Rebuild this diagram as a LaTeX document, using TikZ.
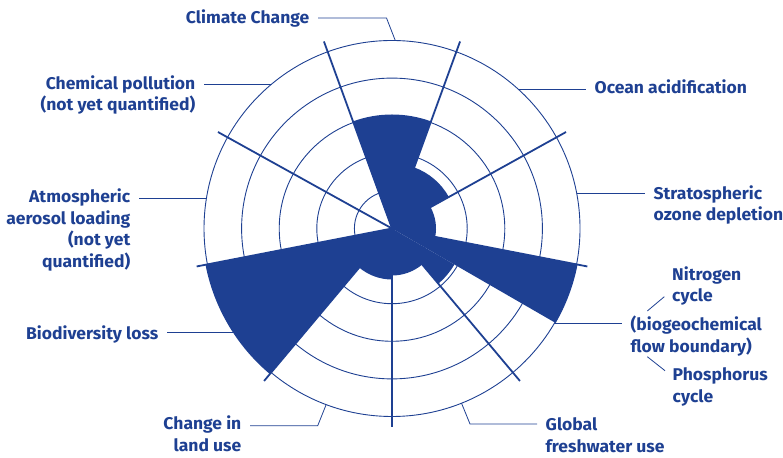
\documentclass[tikz,border=0pt]{standalone}
\usepackage{fontspec}
\setmainfont{Fira Sans}[FakeStretch=1.03]
\definecolor{pbblue}{RGB}{30,64,146}

\begin{document}
\begin{tikzpicture}[
    x=1pt, y=1pt,
    ring/.style={draw=pbblue, line width=0.9pt},
    spoke/.style={draw=pbblue, line width=1.8pt},
    wedge/.style={fill=pbblue},
    leader/.style={draw=pbblue, line width=0.8pt},
    lab/.style={font=\bfseries\fontsize{17}{21.7}\selectfont, text=pbblue, inner xsep=8.5pt, inner ysep=0pt},
    labl/.style={lab, align=left, anchor=base west},
    labr/.style={lab, align=right, anchor=base east}
]
\useasboundingbox (0,0) rectangle (783,457);
\coordinate (c) at (392,228.5);

% rings of the boundary chart
\foreach \rr in {37.6,75.2,112.8,150.4,188}
    \draw[ring] (c) circle[radius=\rr];

% boundaries that are quantified
\foreach \from/\to/\rr in {70/110/114, 29/70/65, -11/29/44, -30/-11/189,
                           -50/-30/72, -90/-50/47, -130/-90/51, -169/-130/190}
    \fill[wedge] (c) -- ([shift={(c)}]\from:\rr)
        arc[start angle=\from, end angle=\to, radius=\rr] -- cycle;

\foreach \a in {29,70,110,151,191,230,270,310,349}
    \draw[spoke] (c) -- ([shift={(c)}]\a:199);

% where the leaders meet the outer ring
\coordinate (climpt) at ([shift={(c)}]89:188);
\coordinate (chempt) at ([shift={(c)}]130:188);
\coordinate (oceanpt) at ([shift={(c)}]47.7:188);
\coordinate (ozonept) at ([shift={(c)}]10.7:188);
\coordinate (aeropt) at ([shift={(c)}]170.8:188);
\coordinate (biopt) at ([shift={(c)}]-146.4:188);
\coordinate (bgcpt) at ([shift={(c)}]-30.4:188);
\coordinate (landpt) at ([shift={(c)}]-110.5:188);
\coordinate (freshpt) at ([shift={(c)}]-68.3:188);
\coordinate (climbend) at (386.5,439);
\coordinate (landbend) at (317.7,31.3);
\coordinate (freshbend) at (470,33);

% labels (base = last line)
\node[labr] (clim) at (318,433.8) {Climate Change};
\node[labr] (chem) at (204,346.1) {Chemical pollution\\(not yet quantified)};
\node[labl] (ocean) at (586,363) {Ocean acidification};
\node[labl] (ozone) at (645,236.1) {Stratospheric\\ozone depletion};
\node[labr] (aero) at (139,189.4) {Atmospheric\\aerosol loading\\(not yet\\quantified)};
\node[labr] (bio) at (167,117.8) {Biodiversity loss};
\node[labl] (bgc) at (622,104.4) {(biogeochemical\\flow boundary)};
\node[labl] (nitro) at (663.5,155.1) {Nitrogen\\cycle};
\node[labl] (phos) at (664,54.4) {Phosphorus\\cycle};
\node[labr] (land) at (250,5.4) {Change in\\land use};
\node[labl] (fresh) at (537,4.4) {Global\\freshwater use};

\draw[leader] (clim.east |- climbend) -- (climbend) -- (climpt);
\draw[leader] (chem.east |- chempt) -- (chempt);
\draw[leader] (oceanpt) -- (oceanpt -| ocean.west);
\draw[leader] (ozonept) -- (ozonept -| ozone.west);
\draw[leader] (aero.east |- aeropt) -- (aeropt);
\draw[leader] (bio.east |- biopt) -- (biopt);
\draw[leader] (bgcpt) -- (bgcpt -| bgc.west);
\draw[leader] (land.east |- landbend) -- (landbend) -- (landpt);
\draw[leader] (freshpt) -- (freshbend) -- (freshbend -| fresh.west);
\draw[leader] (647.3,146) -- (664.3,160.3);
\draw[leader] (647.3,100.3) -- (665,86.3);

\end{tikzpicture}
\end{document}
